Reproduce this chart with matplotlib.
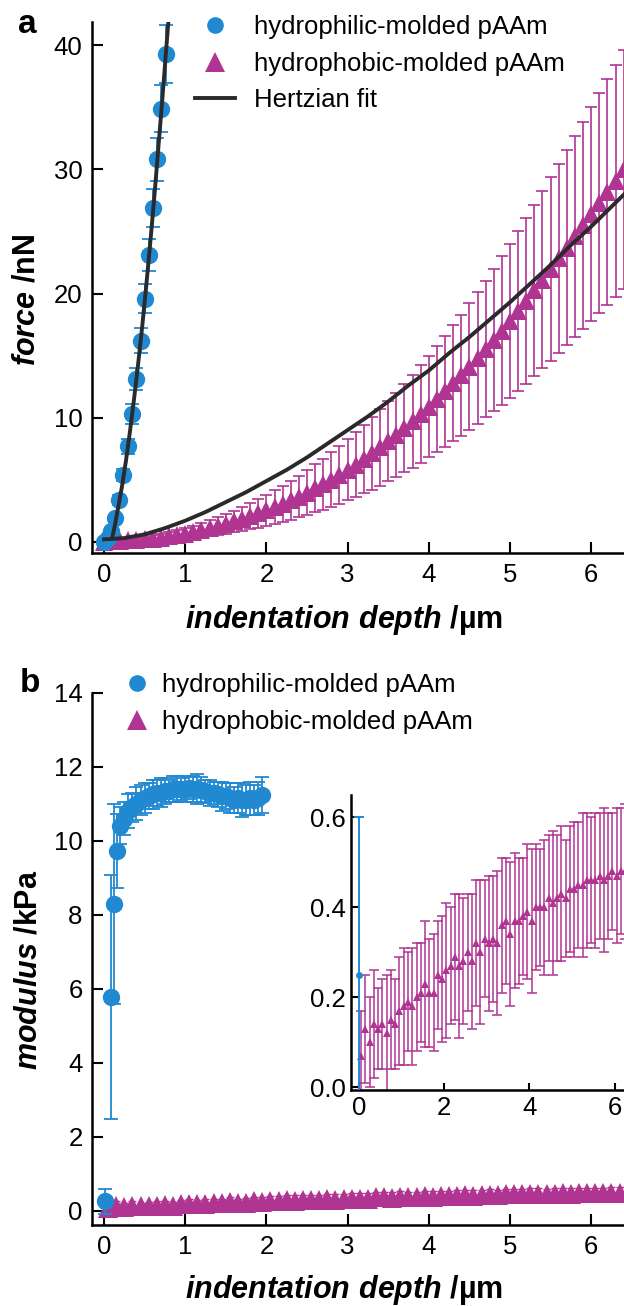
import numpy as np
import matplotlib
matplotlib.use("Agg")
import matplotlib.pyplot as plt
from matplotlib.lines import Line2D

plt.rcParams["font.family"] = "Liberation Sans"
plt.rcParams["mathtext.fontset"] = "custom"
plt.rcParams["mathtext.it"] = "Liberation Sans:italic:bold"
plt.rcParams["mathtext.rm"] = "Liberation Sans:bold"
plt.rcParams["mathtext.bf"] = "Liberation Sans:bold"

BLUE = "#2189d2"
MAGENTA = "#b03592"
FIT = "#2a2a2a"

# ---- panel a: force vs indentation ----
a_blue_x = [0.0, 0.045, 0.09, 0.135, 0.19, 0.24, 0.29, 0.345, 0.395, 0.45,
            0.50, 0.55, 0.605, 0.655, 0.705, 0.76]
a_blue_y = [0.0, 0.3, 0.9, 1.9, 3.4, 5.4, 7.7, 10.3, 13.1, 16.2,
            19.6, 23.1, 26.9, 30.8, 34.9, 39.3]
a_blue_err = [0.1, 0.15, 0.2, 0.3, 0.4, 0.5, 0.6, 0.8, 0.9, 1.0,
              1.2, 1.3, 1.5, 1.7, 1.9, 2.3]

a_blue_fit_x = [0.10, 0.13, 0.17, 0.22, 0.27, 0.32, 0.37, 0.42, 0.47, 0.52,
                0.57, 0.62, 0.67, 0.72, 0.77, 0.80]
a_blue_fit_y = [0.3, 1.2, 2.6, 4.4, 6.5, 8.9, 11.5, 14.3, 17.3, 20.6,
                24.1, 27.8, 31.8, 35.8, 40.0, 42.5]

a_mag_x = np.round(np.arange(0.0, 6.55, 0.1), 2)
a_mag_y = [0.00, 0.05, 0.08, 0.11, 0.15, 0.20, 0.26, 0.34, 0.43, 0.54,
           0.66, 0.80, 0.95, 1.10, 1.27, 1.45, 1.64, 1.84, 2.06, 2.29,
           2.53, 2.79, 3.06, 3.35, 3.65, 3.97, 4.30, 4.65, 5.02, 5.40,
           5.80, 6.22, 6.66, 7.12, 7.60, 8.10, 8.62, 9.16, 9.72, 10.30,
           10.90, 11.50, 12.12, 12.76, 13.42, 14.10, 14.80, 15.52, 16.26, 17.02,
           17.80, 18.60, 19.42, 20.26, 21.12, 22.00, 22.85, 23.70, 24.60, 25.50,
           26.40, 27.30, 28.20, 29.10, 30.00, 31.00]
a_mag_err = [0.05, 0.10, 0.12, 0.15, 0.18, 0.20, 0.25, 0.30, 0.35, 0.40,
             0.45, 0.50, 0.57, 0.64, 0.71, 0.79, 0.88, 0.96, 1.05, 1.15,
             1.25, 1.35, 1.46, 1.57, 1.69, 1.81, 1.93, 2.06, 2.19, 2.33,
             2.47, 2.61, 2.76, 2.91, 3.07, 3.23, 3.40, 3.57, 3.74, 3.92,
             4.10, 4.29, 4.48, 4.67, 4.87, 5.10, 5.30, 5.50, 5.75, 6.00,
             6.20, 6.45, 6.70, 6.90, 7.15, 7.40, 7.60, 7.85, 8.10, 8.35,
             8.60, 8.85, 9.10, 9.35, 9.60, 9.90]

a_mag_fit_x = [0.0, 0.25, 0.5, 0.75, 1.0, 1.25, 1.5, 1.75, 2.0, 2.25, 2.5, 2.75,
               3.0, 3.25, 3.5, 3.75, 4.0, 4.25, 4.5, 4.75, 5.0, 5.25, 5.5, 5.75,
               6.0, 6.25, 6.5]
a_mag_fit_y = [0.2, 0.3, 0.6, 1.1, 1.7, 2.4, 3.2, 4.0, 4.9, 5.8, 6.8, 7.9,
               9.0, 10.1, 11.3, 12.6, 13.8, 15.2, 16.5, 17.9, 19.3, 20.8, 22.3, 23.9,
               25.4, 27.0, 28.6]

# ---- panel b: modulus vs indentation ----
b_blue_x = [0.01, 0.09, 0.125, 0.16,
            0.20, 0.25, 0.30, 0.35, 0.40, 0.45, 0.50, 0.55, 0.60, 0.65,
            0.70, 0.75, 0.80, 0.85, 0.90, 0.95, 1.00, 1.05, 1.10, 1.15,
            1.20, 1.25, 1.30, 1.35, 1.40, 1.45, 1.50, 1.55, 1.60, 1.65,
            1.70, 1.75, 1.80, 1.85, 1.90, 1.95]
b_blue_y = [0.25, 5.78, 8.28, 9.73,
            10.4, 10.6, 10.8, 10.9, 11.0, 11.1, 11.15, 11.2, 11.25, 11.3,
            11.3, 11.35, 11.35, 11.4, 11.4, 11.4, 11.4, 11.42, 11.4, 11.4,
            11.38, 11.35, 11.3, 11.3, 11.25, 11.2, 11.2, 11.15, 11.1, 11.15,
            11.1, 11.1, 11.15, 11.1, 11.15, 11.23]
b_blue_err = [0.35, 3.3, 2.7, 1.0,
              0.5, 0.45, 0.45, 0.4, 0.45, 0.4, 0.4, 0.35, 0.4, 0.35,
              0.4, 0.35, 0.3, 0.35, 0.35, 0.3, 0.35, 0.3, 0.35, 0.4,
              0.35, 0.3, 0.35, 0.3, 0.35, 0.4, 0.35, 0.4, 0.35, 0.4,
              0.45, 0.4, 0.45, 0.4, 0.45, 0.48]

b_mag_x = np.round(np.arange(0.05, 6.5, 0.1), 2)
b_mag_y = [0.07, 0.13, 0.10, 0.14, 0.13, 0.14, 0.12, 0.15, 0.14, 0.17,
           0.18, 0.19, 0.18, 0.20, 0.21, 0.23, 0.21, 0.21, 0.25, 0.24,
           0.26, 0.27, 0.29, 0.27, 0.28, 0.30, 0.28, 0.32, 0.30, 0.33,
           0.32, 0.33, 0.32, 0.36, 0.37, 0.34, 0.37, 0.37, 0.38, 0.39,
           0.37, 0.40, 0.40, 0.40, 0.42, 0.41, 0.42, 0.43, 0.42, 0.44,
           0.44, 0.45, 0.45, 0.46, 0.46, 0.46, 0.47, 0.46, 0.47, 0.48,
           0.47, 0.48, 0.48, 0.49, 0.49]
b_mag_err = [0.10, 0.12, 0.10, 0.12, 0.09, 0.10, 0.13, 0.11, 0.10, 0.12,
             0.13, 0.11, 0.13, 0.12, 0.11, 0.14, 0.12, 0.13, 0.12, 0.14,
             0.15, 0.13, 0.14, 0.16, 0.14, 0.13, 0.15, 0.14, 0.16, 0.13,
             0.15, 0.14, 0.16, 0.15, 0.14, 0.16, 0.15, 0.14, 0.13, 0.15,
             0.16, 0.14, 0.13, 0.15, 0.14, 0.16, 0.14, 0.15, 0.13, 0.14,
             0.15, 0.14, 0.16, 0.15, 0.14, 0.15, 0.14, 0.16, 0.14, 0.13,
             0.15, 0.14, 0.15, 0.14, 0.13]

labels = ["hydrophilic-molded pAAm", "hydrophobic-molded pAAm", "Hertzian fit"]
xlabel = r"$\mathit{indentation\ depth}$ /µm"

W, H = 624, 1306


def box(x0, y0, x1, y1):
    return [x0 / W, 1 - y1 / H, (x1 - x0) / W, (y1 - y0) / H]


def style(ax, length=8, size=18.5):
    for s in ["top", "right"]:
        ax.spines[s].set_visible(False)
    for s in ["left", "bottom"]:
        ax.spines[s].set_linewidth(1.8)
    ax.tick_params(direction="in", length=length, width=1.5, labelsize=size, pad=7)


fig = plt.figure(figsize=(6.24, 13.06), dpi=100)

# panel a
ax = fig.add_axes(box(92.3, 21.7, 624, 553))
ax.errorbar(a_mag_x, a_mag_y, yerr=a_mag_err, fmt="none", ecolor=MAGENTA,
            elinewidth=1.2, capsize=4.3, capthick=1.2, zorder=2)
ax.plot(a_mag_x, a_mag_y, "^", color=MAGENTA, ms=13, mew=0, zorder=3)
ax.errorbar(a_blue_x, a_blue_y, yerr=a_blue_err, fmt="none", ecolor=BLUE,
            elinewidth=1.3, capsize=4.7, capthick=1.3, zorder=4)
ax.plot(a_blue_x, a_blue_y, "o", color=BLUE, ms=12.5, mew=0, zorder=5)
ax.plot(a_blue_fit_x, a_blue_fit_y, color=FIT, lw=2.8, zorder=6)
ax.plot(a_mag_fit_x, a_mag_fit_y, color=FIT, lw=2.8, zorder=6)
ax.set_xlim(-0.144, 6.404)
ax.set_ylim(-0.9, 41.9)
ax.set_xticks(range(7))
ax.set_yticks([0, 10, 20, 30, 40])
style(ax)
ax.set_xlabel(xlabel, fontsize=22, fontweight="bold")
ax.xaxis.set_label_coords(0.473, -0.094)
ax.set_ylabel(r"$\mathit{force}$ /nN", fontsize=22, fontweight="bold")
ax.yaxis.set_label_coords(-0.095, 0.476)

handles = [Line2D([], [], marker="o", ls="none", color=BLUE, ms=12, mew=0),
           Line2D([], [], marker="^", ls="none", color=MAGENTA, ms=14, mew=0),
           Line2D([], [], color=FIT, lw=2.8)]
ax.legend(handles, labels, loc="upper left", bbox_to_anchor=(195 / W, 1 - 15 / H),
          bbox_transform=fig.transFigure, frameon=False, fontsize=18.5,
          borderpad=0, borderaxespad=0, handlelength=1.56, handletextpad=0.75,
          labelspacing=0.49)
fig.text(18 / W, 1 - 33 / H, "a", fontsize=24, fontweight="bold", va="baseline")

# panel b
bx = fig.add_axes(box(92.3, 692.7, 624, 1225))
bx.errorbar(b_mag_x, b_mag_y, yerr=b_mag_err, fmt="none", ecolor=MAGENTA,
            elinewidth=1.0, capsize=3, capthick=1.0, zorder=2)
bx.plot(b_mag_x, b_mag_y, "^", color=MAGENTA, ms=14, mew=0, zorder=3)
bx.errorbar(b_blue_x, b_blue_y, yerr=b_blue_err, fmt="none", ecolor=BLUE,
            elinewidth=1.3, capsize=4.7, capthick=1.3, zorder=4)
bx.plot(b_blue_x, b_blue_y, "o", color=BLUE, ms=12.5, mew=0, zorder=5)
bx.set_xlim(-0.144, 6.404)
bx.set_ylim(-0.386, 14.0)
bx.set_xticks(range(7))
bx.set_yticks(range(0, 15, 2))
style(bx)
bx.set_xlabel(xlabel, fontsize=22, fontweight="bold")
bx.xaxis.set_label_coords(0.473, -0.09)
bx.set_ylabel(r"$\mathit{modulus}$ /kPa", fontsize=22, fontweight="bold")
bx.yaxis.set_label_coords(-0.091, 0.48)
bx.legend(handles[:2], labels[:2], loc="upper left", bbox_to_anchor=(124 / W, 1 - 673 / H),
          bbox_transform=fig.transFigure, frameon=False, fontsize=18.5,
          borderpad=0, borderaxespad=0, handlelength=1.0, handletextpad=0.47,
          labelspacing=0.49)
fig.text(20 / W, 1 - 692 / H, "b", fontsize=24, fontweight="bold", va="baseline")

# inset
ix = fig.add_axes(box(351, 795, 624, 1090))
ix.errorbar(b_mag_x, b_mag_y, yerr=b_mag_err, fmt="none", ecolor=MAGENTA,
            elinewidth=1.1, capsize=3.5, capthick=1.1, zorder=2)
ix.plot(b_mag_x, b_mag_y, "^", color=MAGENTA, ms=5.5, mew=0, zorder=3)
ix.errorbar(b_blue_x, b_blue_y, yerr=b_blue_err, fmt="none", ecolor=BLUE,
            elinewidth=1.4, capsize=3.5, capthick=1.4, zorder=4)
ix.plot(b_blue_x, b_blue_y, "o", color=BLUE, ms=5, mew=0, zorder=5)
ix.set_xlim(-0.188, 6.22)
ix.set_ylim(-0.0065, 0.65)
ix.set_xticks([0, 2, 4, 6])
ix.set_yticks([0.0, 0.2, 0.4, 0.6])
ix.set_yticklabels(["0.0", "0.2", "0.4", "0.6"])
style(ix, length=5, size=18.5)
ix.tick_params(pad=4)

fig.savefig("out.png", dpi=100)
